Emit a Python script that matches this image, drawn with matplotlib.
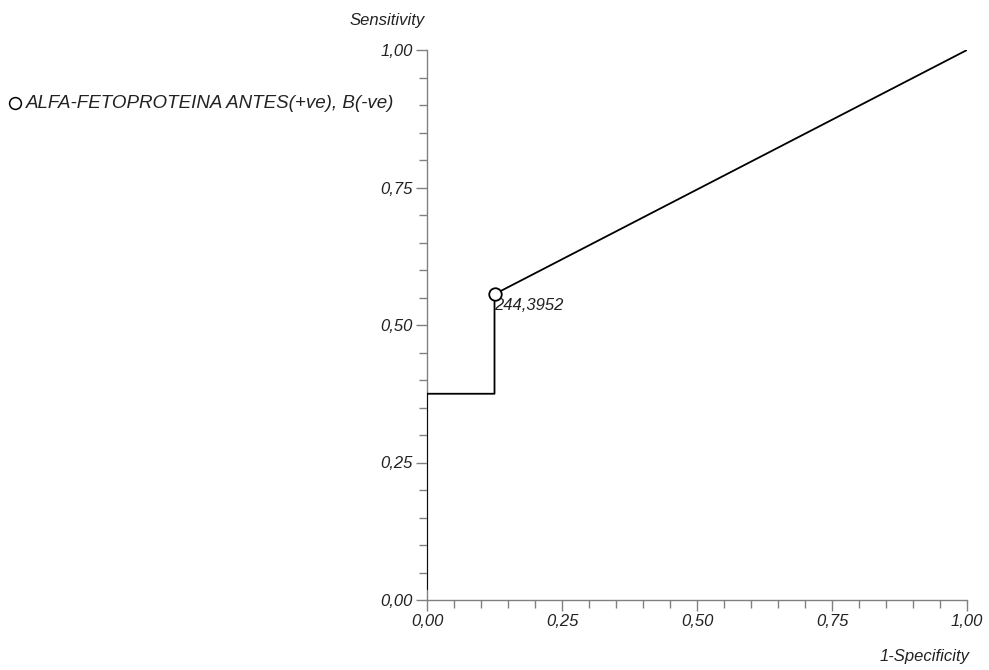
import matplotlib
matplotlib.use("Agg")
import matplotlib.pyplot as plt
from matplotlib.ticker import MultipleLocator, FuncFormatter
from matplotlib.lines import Line2D

# ROC data
fpr = [0.0, 0.0, 0.125, 0.125, 1.0]
tpr = [0.02, 0.375, 0.375, 0.556, 1.0]
cut_x = 0.125
cut_y = 0.556
cut_label = "244,3952"
series_label = "ALFA-FETOPROTEINA ANTES(+ve), B(-ve)"

plt.rcParams['font.family'] = ['Liberation Sans', 'DejaVu Sans']
plt.rcParams['font.style'] = 'italic'
FS = 12

fig = plt.figure(figsize=(9.89, 6.70), dpi=100)
ax = fig.add_axes([427/989, 1-600/670, 540/989, 550/670])

ax.plot(fpr, tpr, color='black', lw=1.3, zorder=3)
ax.plot([cut_x], [cut_y], marker='o', ms=9, mfc='white', mec='black', mew=1.3, zorder=4, clip_on=False)
ax.annotate(cut_label, (cut_x, cut_y), xytext=(0, -3), textcoords='offset points',
            ha='left', va='top', fontsize=FS, style='italic', color='#222222')

ax.set_xlim(0, 1)
ax.set_ylim(0, 1)
for s in ['top', 'right']:
    ax.spines[s].set_visible(False)
for s in ['left', 'bottom']:
    ax.spines[s].set_color('#808080')
    ax.spines[s].set_linewidth(1.0)

ax.xaxis.set_major_locator(MultipleLocator(0.25))
ax.xaxis.set_minor_locator(MultipleLocator(0.05))
ax.yaxis.set_major_locator(MultipleLocator(0.25))
ax.yaxis.set_minor_locator(MultipleLocator(0.05))
fmt = FuncFormatter(lambda v, p: f"{v:.2f}".replace('.', ','))
ax.xaxis.set_major_formatter(fmt)
ax.yaxis.set_major_formatter(fmt)
ax.tick_params(which='major', length=8, width=1.0, color='#808080', labelsize=FS, labelcolor='#222222', pad=2)
ax.tick_params(which='minor', length=6, width=1.0, color='#808080')
ax.tick_params(axis='x', which='both', direction='out')
for lab in ax.get_xticklabels() + ax.get_yticklabels():
    lab.set_style('italic')

fig.text(425/989, 1-20/670, "Sensitivity", ha='right', va='center', fontsize=FS, style='italic', color='#222222')
fig.text(970/989, 1-657/670, "1-Specificity", ha='right', va='center', fontsize=FS, style='italic', color='#222222')

fig.add_artist(Line2D([15/989], [1-103/670], marker='o', ms=8.5, mfc='white', mec='black', mew=1.1,
                      transform=fig.transFigure))
fig.text(26/989, 1-103/670, series_label, ha='left', va='center', fontsize=13.5, style='italic', color='#222222')

fig.savefig('out.png', dpi=100)
